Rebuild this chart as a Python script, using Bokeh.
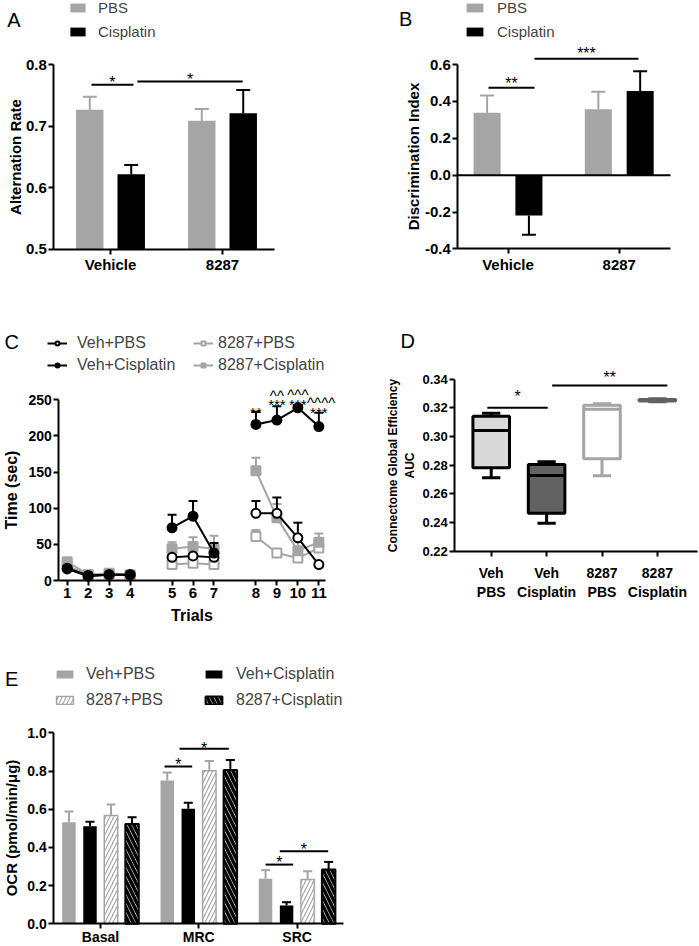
from bokeh.plotting import figure
from bokeh.models import (Range1d, FixedTicker, Label, Legend, LegendItem,
                          NumeralTickFormatter)
from bokeh.layouts import column, row
from bokeh.embed import file_html
from bokeh.resources import INLINE
from bokeh.core.properties import value

FONT = "Liberation Sans"
GRAY = "#a5a5a5"
LIGHT = "#d9d9d9"
DARK = "#626262"

# ---------------- Panel A : alternation rate ----------------
a_groups = ["Vehicle", "8287"]
a_pbs = [0.727, 0.709]
a_pbs_err = [0.021, 0.019]
a_cis = [0.622, 0.721]
a_cis_err = [0.015, 0.038]
a_yticks = [0.5, 0.6, 0.7, 0.8]
a_sig_x0 = [-0.17, 0.24]
a_sig_x1 = [0.205, 1.18]
a_sig_y = [0.7675, 0.7728]
a_star_y = [0.779, 0.784]
a_sig_text = ["*", "*"]

# ---------------- Panel B : discrimination index ----------------
b_groups = ["Vehicle", "8287"]
b_pbs = [0.338, 0.358]
b_pbs_err = [0.094, 0.094]
b_cis = [-0.218, 0.456]
b_cis_err = [0.105, 0.108]
b_yticks = [-0.4, -0.2, 0.0, 0.2, 0.4, 0.6]
b_sig_x0 = [-0.175, 0.238]
b_sig_x1 = [0.238, 1.173]
b_sig_y = [0.474, 0.631]
b_star_y = [0.526, 0.689]
b_sig_text = ["**", "***"]

# ---------------- Panel C : time per trial ----------------
c_trials = [1, 2, 3, 4, 5, 6, 7, 8, 9, 10, 11]
c_blocks = [[1, 2, 3, 4], [5, 6, 7], [8, 9, 10, 11]]
c_veh_pbs = [17, 7, 8, 8, 32, 34, 32, 93, 93, 59, 22]
c_veh_pbs_err = [2, 1, 1, 1, 3, 3, 3, 17, 22, 21, 3]
c_veh_cis = [16, 6, 8, 8, 73, 89, 38, 216, 222, 239, 213]
c_veh_cis_err = [2, 1, 1, 1, 18, 21, 14, 17, 19, 4, 19]
c_8287_pbs = [20, 8, 9, 7, 22, 24, 22, 61, 38, 31, 45]
c_8287_pbs_err = [2, 1, 1, 1, 3, 3, 3, 9, 3, 3, 13]
c_8287_cis = [26, 8, 10, 8, 44, 47, 44, 152, 87, 41, 53]
c_8287_cis_err = [3, 1, 1, 1, 9, 13, 18, 18, 19, 15, 12]
c_yticks = [0, 50, 100, 150, 200, 250]
c_note_trial = [8, 9, 9, 10, 10, 11, 11]
c_note_dx = [0, 0, 0, 0, 0, 0, 0.11]
c_note_y = [239, 250, 263, 250, 264, 239, 253]
c_note_text = ["**", "***", "^^", "***", "^^^", "***", "^^^^"]

# ---------------- Panel D : connectome global efficiency ----------------
d_labels = ["Veh\nPBS", "Veh\nCisplatin", "8287\nPBS", "8287\nCisplatin"]
d_min = [0.2712, 0.2395, 0.2726, 0.3243]
d_q1 = [0.2782, 0.2465, 0.2845, 0.3247]
d_med = [0.3042, 0.2728, 0.3190, 0.3253]
d_q3 = [0.3142, 0.2805, 0.3219, 0.3259]
d_max = [0.3163, 0.2824, 0.3228, 0.3263]
d_yticks = [0.22, 0.24, 0.26, 0.28, 0.30, 0.32, 0.34]
d_sig_x0 = [-0.07, 1.10]
d_sig_x1 = [1.02, 3.18]
d_sig_y = [0.320, 0.3356]
d_star_y = [0.3311, 0.3449]
d_sig_text = ["*", "**"]

# ---------------- Panel E : OCR ----------------
e_groups = ["Basal", "MRC", "SRC"]
e_veh_pbs = [0.532, 0.750, 0.236]
e_veh_pbs_err = [0.056, 0.042, 0.045]
e_veh_cis = [0.511, 0.602, 0.096]
e_veh_cis_err = [0.023, 0.032, 0.017]
e_8287_pbs = [0.567, 0.801, 0.232]
e_8287_pbs_err = [0.058, 0.052, 0.043]
e_8287_cis = [0.522, 0.805, 0.284]
e_8287_cis_err = [0.036, 0.052, 0.040]
e_yticks = [0.0, 0.2, 0.4, 0.6, 0.8, 1.0]
e_sig_x0 = [0.651, 0.804, 1.679, 1.824]
e_sig_x1 = [0.933, 1.305, 1.960, 2.316]
e_sig_y = [0.824, 0.916, 0.310, 0.380]
e_star_y = [0.860, 0.942, 0.346, 0.415]
e_sig_text = ["*", "*", "*", "*"]


# ---------------- helpers ----------------
class Panel:
    """A figure whose plotting frame is the whole canvas; axes are pinned inside it."""

    def __init__(self, w, h, x0_px, x0_val, kx, y0_px, y0_val, ky):
        self.w, self.h = w, h
        self.x0_px, self.x0_val, self.kx = x0_px, x0_val, kx
        self.y0_px, self.y0_val, self.ky = y0_px, y0_val, ky
        xr = (self.fx(0), self.fx(w))
        yr = (self.fy(h), self.fy(0))
        p = figure(width=w, height=h, x_range=Range1d(*xr), y_range=Range1d(*yr),
                   output_backend="svg", toolbar_location=None, title=None,
                   min_border_left=0, min_border_right=0,
                   min_border_top=0, min_border_bottom=0)
        p.outline_line_color = None
        p.xgrid.visible = False
        p.ygrid.visible = False
        for ax in (p.xaxis[0], p.yaxis[0]):
            ax.axis_line_width = 2
            ax.axis_line_color = "black"
            ax.major_tick_line_width = 2
            ax.major_tick_line_color = "black"
            ax.major_tick_out = 5
            ax.major_tick_in = 0
            ax.minor_tick_line_color = None
            ax.major_label_text_font = FONT
            ax.major_label_text_font_style = "bold"
            ax.major_label_text_color = "black"
            ax.major_label_standoff = 2
            ax.axis_label_text_font = FONT
            ax.axis_label_text_font_style = "bold"
            ax.axis_label_text_color = "black"
        self.p = p

    def fx(self, lx):
        return self.x0_val + (lx - self.x0_px) / self.kx

    def fy(self, ly):
        return self.y0_val + (self.y0_px - ly) / self.ky

    def axes(self, yaxis_px, xaxis_val, xbounds_px, ybounds):
        p = self.p
        p.yaxis.fixed_location = self.fx(yaxis_px)
        p.yaxis.bounds = ybounds
        p.xaxis.fixed_location = xaxis_val
        p.xaxis.bounds = (self.fx(xbounds_px[0]), self.fx(xbounds_px[1]))

    def letter(self, lx, ly, text):
        self.p.add_layout(Label(x=self.fx(lx), y=self.fy(ly), text=text, text_font=FONT,
                                text_font_size="20px", text_color="black",
                                text_baseline="alphabetic"))

    def legend(self, lx, centers, items, gw, gh, fs, standoff, lh=20):
        pitch = centers[1] - centers[0]
        spacing = int(round(pitch - lh))
        top = centers[0] - lh / 2
        bottom = top + len(items) * lh + (len(items) - 1) * spacing
        leg = Legend(items=items, location=(lx, self.h - bottom), orientation="vertical",
                     glyph_width=gw, glyph_height=gh, label_text_font=FONT,
                     label_text_font_size=fs, label_standoff=standoff, spacing=spacing,
                     padding=0, margin=0, border_line_color=None, background_fill_alpha=0,
                     label_height=lh, label_text_baseline="middle")
        self.p.add_layout(leg)


def err_bars(p, xs, vals, errs, color, cap):
    ends = [v + e if v >= 0 else v - e for v, e in zip(vals, errs)]
    p.segment(x0=xs, y0=vals, x1=xs, y1=ends, line_color=color, line_width=2)
    p.scatter(x=xs, y=ends, marker="dash", size=cap, line_color=color, line_width=2)


def sig(p, x0, x1, y, sy, texts, fs="16px"):
    p.segment(x0=x0, y0=y, x1=x1, y1=y, line_color="black", line_width=2)
    mids = [(a + b) / 2 for a, b in zip(x0, x1)]
    p.text(x=mids, y=sy, text=texts, text_font=value(FONT), text_font_size=fs,
           text_align="center", text_baseline="alphabetic", y_offset=5, text_color="black")


# ---------------- Panel A ----------------
A = Panel(340, 300, 110, 0, 112, 248.7, 0.5, 614.67)
pA = A.p
ax_pos = list(range(len(a_groups)))
xa_p = [g - 0.185 for g in ax_pos]
xa_c = [g + 0.185 for g in ax_pos]
err_bars(pA, xa_p, a_pbs, a_pbs_err, GRAY, 14)
err_bars(pA, xa_c, a_cis, a_cis_err, "black", 14)
rA1 = pA.vbar(x=xa_p, top=a_pbs, bottom=a_yticks[0], width=0.245, fill_color=GRAY, line_color=None)
rA2 = pA.vbar(x=xa_c, top=a_cis, bottom=a_yticks[0], width=0.245, fill_color="black", line_color=None)
sig(pA, a_sig_x0, a_sig_x1, a_sig_y, a_star_y, a_sig_text)
A.axes(53.3, a_yticks[0], (53.3, 274), (a_yticks[0], a_yticks[-1]))
pA.yaxis.ticker = FixedTicker(ticks=a_yticks)
pA.yaxis.formatter = NumeralTickFormatter(format="0.0")
pA.yaxis.major_label_text_font_size = "15px"
pA.yaxis.axis_label = "Alternation Rate"
pA.yaxis.axis_label_text_font_size = "15px"
pA.yaxis.axis_label_standoff = -1
pA.xaxis.ticker = FixedTicker(ticks=ax_pos)
pA.xaxis.major_label_overrides = {i: g for i, g in enumerate(a_groups)}
pA.xaxis.major_label_text_font_size = "15px"
A.legend(68, [7.5, 32], [LegendItem(label="PBS", renderers=[rA1]),
                         LegendItem(label="Cisplatin", renderers=[rA2])],
         19, 11, "15px", 11)
A.letter(6.7, 19.3, "A")

# ---------------- Panel B ----------------
B = Panel(359, 300, 167.5, 0, 111.25, 174.7, 0.0, 184.4)
pB = B.p
bx = list(range(len(b_groups)))
xb_p = [g - 0.188 for g in bx]
xb_c = [g + 0.188 for g in bx]
err_bars(pB, xb_p, b_pbs, b_pbs_err, GRAY, 14)
err_bars(pB, xb_c, b_cis, b_cis_err, "black", 14)
rB1 = pB.vbar(x=xb_p, top=b_pbs, bottom=0, width=0.243, fill_color=GRAY, line_color=None)
rB2 = pB.vbar(x=xb_c, top=b_cis, bottom=0, width=0.243, fill_color="black", line_color=None)
pB.segment(x0=[B.fx(117.3)], y0=[0], x1=[B.fx(330)], y1=[0], line_color="black", line_width=2)
sig(pB, b_sig_x0, b_sig_x1, b_sig_y, b_star_y, b_sig_text)
B.axes(117.3, b_yticks[0], (117.3, 330), (b_yticks[0], b_yticks[-1]))
pB.yaxis.ticker = FixedTicker(ticks=b_yticks)
pB.yaxis.formatter = NumeralTickFormatter(format="0.0")
pB.yaxis.major_label_text_font_size = "15px"
pB.yaxis.axis_label = "Discrimination Index"
pB.yaxis.axis_label_text_font_size = "15px"
pB.yaxis.axis_label_standoff = 0
pB.xaxis.ticker = FixedTicker(ticks=bx)
pB.xaxis.major_label_overrides = {i: g for i, g in enumerate(b_groups)}
pB.xaxis.major_label_text_font_size = "15px"
B.legend(124, [7.5, 32], [LegendItem(label="PBS", renderers=[rB1]),
                          LegendItem(label="Cisplatin", renderers=[rB2])],
         21, 11, "15px", 12)
B.letter(58.5, 18.3, "B")

# ---------------- Panel C ----------------
C = Panel(340, 326, 66.7, 1, 20.97, 280, 0, 0.7227)
pC = C.p
c_pos = [t + (t >= 5) + (t >= 8) for t in c_trials]
idx = {t: i for i, t in enumerate(c_trials)}
series = [
    ("8287+PBS", c_8287_pbs, c_8287_pbs_err, GRAY, "square", "white"),
    ("8287+Cisplatin", c_8287_cis, c_8287_cis_err, GRAY, "square", GRAY),
    ("Veh+PBS", c_veh_pbs, c_veh_pbs_err, "black", "circle", "white"),
    ("Veh+Cisplatin", c_veh_cis, c_veh_cis_err, "black", "circle", "black"),
]
c_items = {}
for name, vals, errs, col, mk, fill in series:
    err_bars(pC, c_pos, vals, errs, col, 9)
    first = None
    for blk in c_blocks:
        ii = [idx[t] for t in blk]
        lr = pC.line([c_pos[i] for i in ii], [vals[i] for i in ii], line_color=col, line_width=2)
        if first is None:
            first = lr
    mr = pC.scatter(c_pos, vals, marker=mk, size=9, fill_color=fill, line_color=col, line_width=2)
    c_items[name] = [first, mr]
pC.text(x=[c_pos[idx[t]] + d for t, d in zip(c_note_trial, c_note_dx)], y=c_note_y,
        text=c_note_text, text_font=value(FONT), text_font_size="15px", text_align="center",
        text_baseline="alphabetic", y_offset=5, text_color="black")
C.axes(58.3, 0, (58.3, 325), (c_yticks[0], c_yticks[-1]))
pC.yaxis.ticker = FixedTicker(ticks=c_yticks)
pC.yaxis.major_label_text_font_size = "14px"
pC.yaxis.axis_label = "Time (sec)"
pC.yaxis.axis_label_text_font_size = "16px"
pC.yaxis.axis_label_standoff = 5
pC.xaxis.ticker = FixedTicker(ticks=c_pos)
pC.xaxis.major_label_overrides = {p_: str(t) for p_, t in zip(c_pos, c_trials)}
pC.xaxis.major_label_text_font_size = "15px"
pC.xaxis.axis_label = "Trials"
pC.xaxis.axis_label_text_font_size = "16px"
pC.xaxis.axis_label_standoff = 6
C.legend(47, [43.3, 65], [LegendItem(label="Veh+PBS", renderers=c_items["Veh+PBS"]),
                          LegendItem(label="Veh+Cisplatin", renderers=c_items["Veh+Cisplatin"])],
         20, 10, "16px", 10)
C.legend(193, [43.3, 65], [LegendItem(label="8287+PBS", renderers=c_items["8287+PBS"]),
                           LegendItem(label="8287+Cisplatin", renderers=c_items["8287+Cisplatin"])],
         20, 10, "16px", 5)
C.letter(4, 41.7, "C")

# ---------------- Panel D ----------------
D = Panel(359, 326, 150.7, 0, 55.4, 250.7, 0.22, 1433.5)
pD = D.p
dx = list(range(len(d_labels)))
d_fill = [LIGHT, DARK, "white", DARK]
d_line = ["black", "black", GRAY, DARK]
pD.segment(x0=dx, y0=d_q3, x1=dx, y1=d_max, line_color=d_line, line_width=3)
pD.segment(x0=dx, y0=d_min, x1=dx, y1=d_q1, line_color=d_line, line_width=3)
pD.vbar(x=dx, bottom=d_q1, top=d_q3, width=0.66, fill_color=d_fill, line_color=d_line, line_width=3)
pD.segment(x0=[x - 0.33 for x in dx], y0=d_med, x1=[x + 0.33 for x in dx], y1=d_med,
           line_color=d_line, line_width=3)
pD.segment(x0=[x - 0.165 for x in dx], y0=d_max, x1=[x + 0.165 for x in dx], y1=d_max,
           line_color=d_line, line_width=3)
pD.segment(x0=[x - 0.165 for x in dx], y0=d_min, x1=[x + 0.165 for x in dx], y1=d_min,
           line_color=d_line, line_width=3)
sig(pD, d_sig_x0, d_sig_x1, d_sig_y, d_star_y, d_sig_text)
D.axes(114.3, d_yticks[0], (114.3, 357), (d_yticks[0], d_yticks[-1]))
pD.yaxis.ticker = FixedTicker(ticks=d_yticks)
pD.yaxis.formatter = NumeralTickFormatter(format="0.00")
pD.yaxis.major_label_text_font_size = "13px"
pD.yaxis.axis_label = "Connectome Global Efficiency\nAUC"
pD.yaxis.axis_label_text_font_size = "12px"
pD.yaxis.axis_label_standoff = 2
pD.xaxis.ticker = FixedTicker(ticks=dx)
pD.xaxis.major_label_overrides = {i: s for i, s in enumerate(d_labels)}
pD.xaxis.major_label_text_font_size = "14px"
pD.xaxis.major_label_text_line_height = 1.17
pD.xaxis.major_label_standoff = 9
D.letter(60, 40, "D")

# ---------------- Panel E ----------------
E = Panel(699, 320, 100, 0, 98.3, 297.3, 0.0, 191)
pE = E.p
ex = list(range(len(e_groups)))
offs = [-0.321, -0.107, 0.107, 0.321]
bw = 0.137
e_series = [
    ("Veh+PBS", e_veh_pbs, e_veh_pbs_err, GRAY, dict(fill_color=GRAY, line_color=None)),
    ("Veh+Cisplatin", e_veh_cis, e_veh_cis_err, "black", dict(fill_color="black", line_color=None)),
    ("8287+PBS", e_8287_pbs, e_8287_pbs_err, GRAY,
     dict(fill_color=GRAY, line_color=GRAY, line_width=1.5, hatch_pattern="/",
          hatch_color="white", hatch_weight=2.5, hatch_scale=8)),
    ("8287+Cisplatin", e_8287_cis, e_8287_cis_err, "black",
     dict(fill_color="white", line_color="black", line_width=2, hatch_pattern="\\",
          hatch_color="black", hatch_weight=3.5, hatch_scale=9)),
]
e_items = {}
for (name, vals, errs, col, style), off in zip(e_series, offs):
    xs = [g + off for g in ex]
    err_bars(pE, xs, vals, errs, col, 9)
    e_items[name] = pE.vbar(x=xs, top=vals, bottom=0, width=bw, **style)
sig(pE, e_sig_x0, e_sig_x1, e_sig_y, e_star_y, e_sig_text)
E.axes(53.3, 0, (53.3, 343.3), (e_yticks[0], e_yticks[-1]))
pE.yaxis.ticker = FixedTicker(ticks=e_yticks)
pE.yaxis.formatter = NumeralTickFormatter(format="0.0")
pE.yaxis.major_label_text_font_size = "14px"
pE.yaxis.axis_label = "OCR (pmol/min/\u03bcg)"
pE.yaxis.axis_label_text_font_size = "15px"
pE.yaxis.axis_label_standoff = 4
pE.xaxis.ticker = FixedTicker(ticks=ex)
pE.xaxis.major_label_overrides = {i: g for i, g in enumerate(e_groups)}
pE.xaxis.major_label_text_font_size = "14px"
pE.xaxis.major_label_standoff = 0
E.legend(54, [48, 74], [LegendItem(label="Veh+PBS", renderers=[e_items["Veh+PBS"]]),
                        LegendItem(label="8287+PBS", renderers=[e_items["8287+PBS"]])],
         21, 10, "16px", 11)
E.legend(203, [48, 74], [LegendItem(label="Veh+Cisplatin", renderers=[e_items["Veh+Cisplatin"]]),
                         LegendItem(label="8287+Cisplatin", renderers=[e_items["8287+Cisplatin"]])],
         21, 10, "16px", 12)
E.letter(4.5, 52.3, "E")

layout = column(row(pA, pB), row(pC, pD), pE)
open("out.html", "w").write(file_html(layout, INLINE))
